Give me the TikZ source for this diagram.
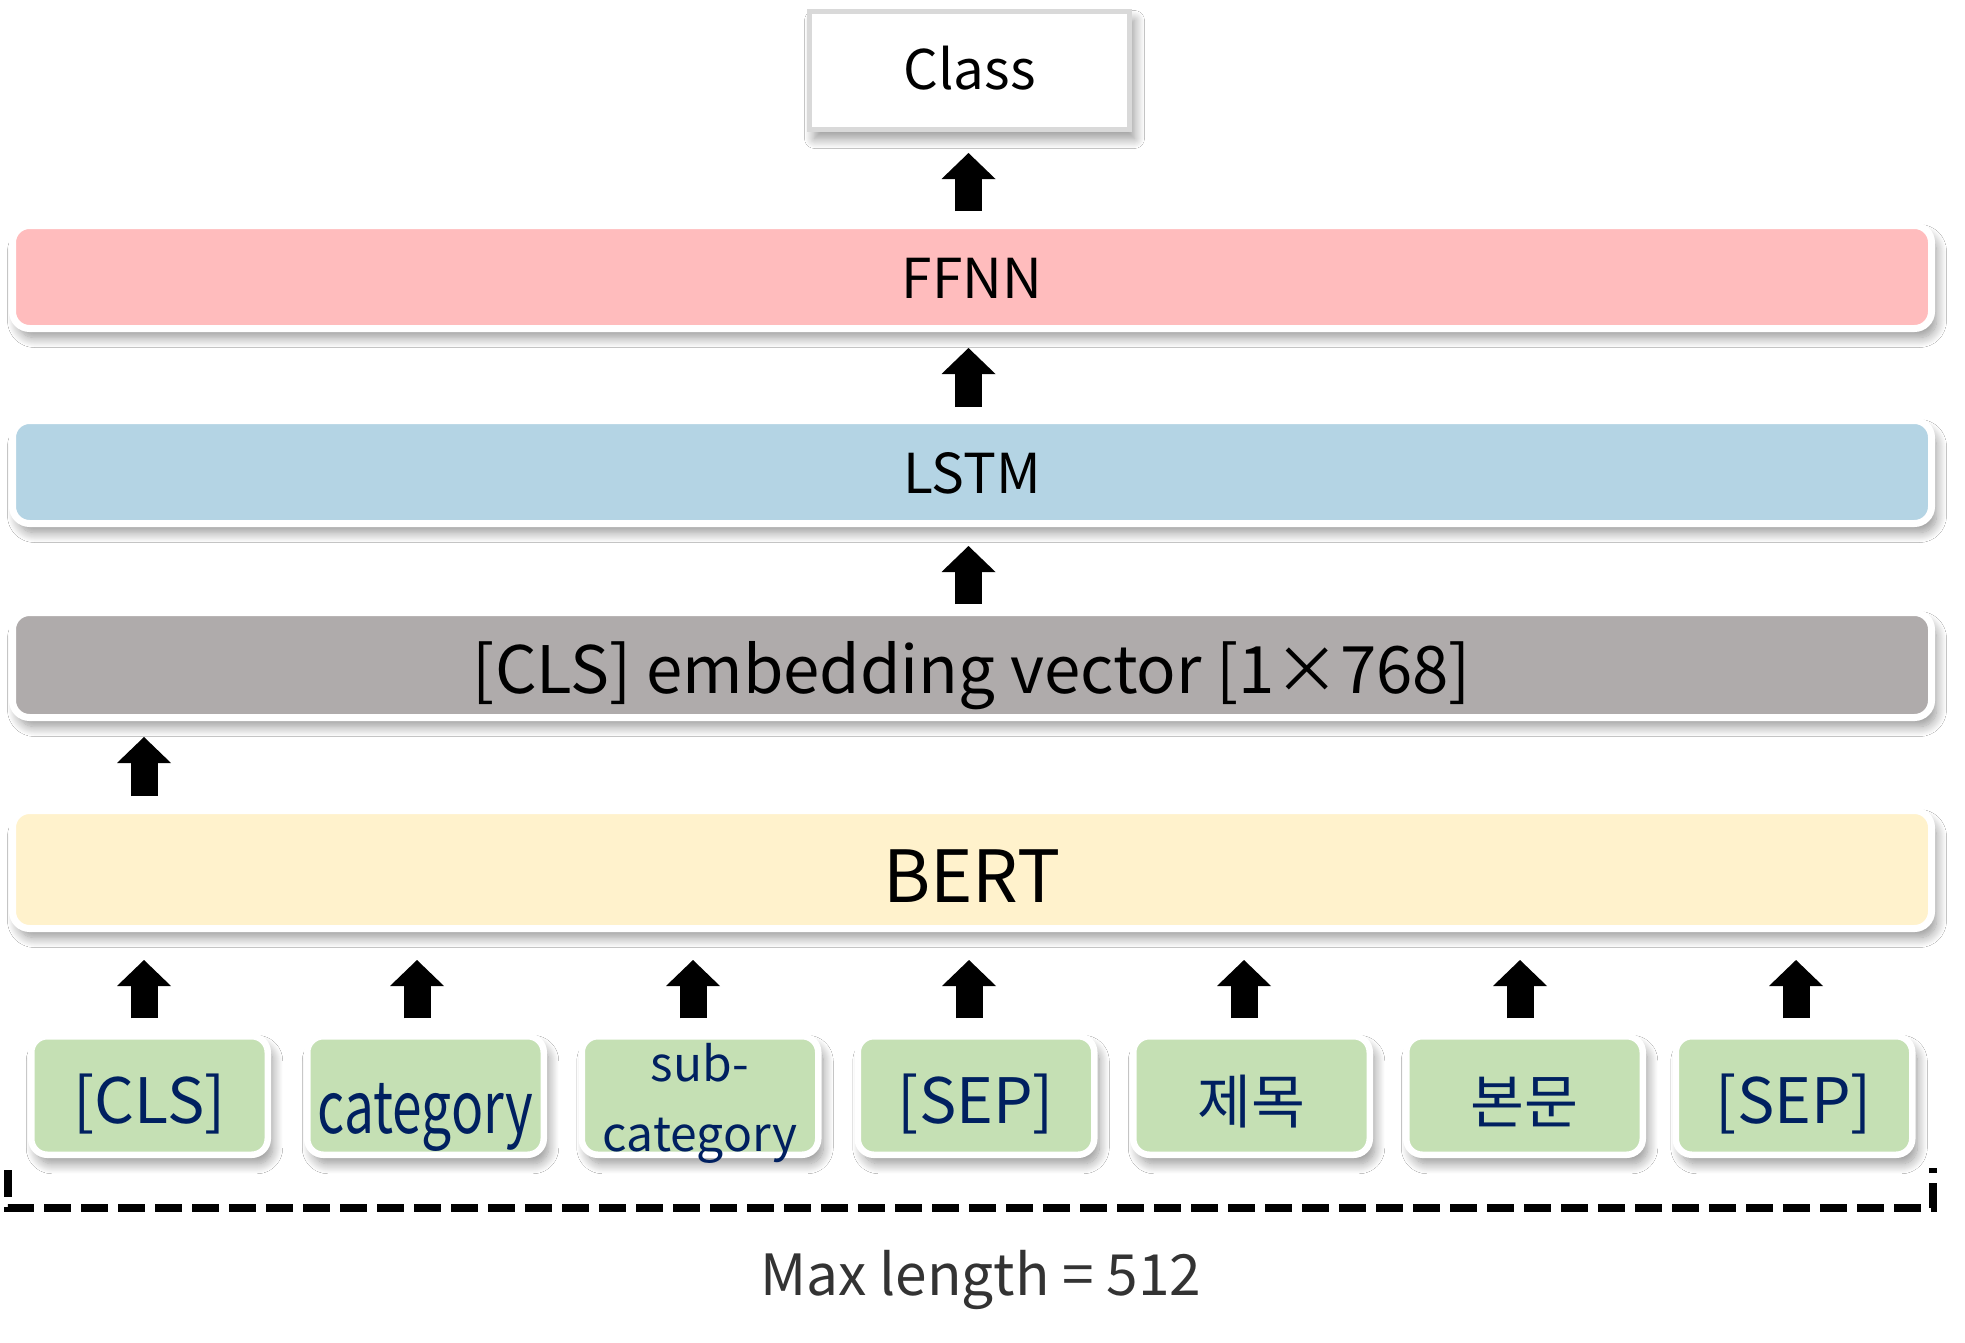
\documentclass[tikz,border=0pt]{standalone}
\usepackage{fontspec}
\usepackage{graphicx}
\setmainfont{Noto Sans CJK KR}
\usetikzlibrary{arrows.meta,shadows.blur}
\definecolor{ffnncol}{HTML}{FFBCBD}
\definecolor{lstmcol}{HTML}{B4D4E4}
\definecolor{embcol}{HTML}{AFABAB}
\definecolor{bertcol}{HTML}{FFF2CC}
\definecolor{tokcol}{HTML}{C5E0B4}
\definecolor{toktext}{HTML}{002060}
\definecolor{classborder}{HTML}{D9D9D9}
\definecolor{maxtext}{HTML}{333333}
\begin{document}
\begin{tikzpicture}[x=0.5pt,y=-0.5pt,
  softshadow/.style={blur shadow={shadow xshift=2.5pt, shadow yshift=-4.5pt, shadow blur radius=5pt, shadow blur steps=14, shadow opacity=42}},
  bar/.style={softshadow, draw=white, line width=3.5pt, rounded corners=8.5pt, minimum width=959.5pt, inner sep=0pt, outer sep=0pt, text depth=0pt},
  token/.style={softshadow, draw=white, line width=3.25pt, rounded corners=8pt, fill=tokcol, minimum width=118.25pt, minimum height=59.25pt, inner sep=0pt, outer sep=0pt, text=toktext, font=\fontsize{31.3pt}{37pt}\selectfont, text height=27.5pt, text depth=0pt},
  hangul/.style={font=\fontsize{29.3pt}{35pt}\selectfont},
  uparrow/.style={line width=13.5pt, -{Triangle[width=27pt, length=13pt, line width=0pt]}},
]
\useasboundingbox (0,0) rectangle (1965,1343);
\fill[white] (0,0) rectangle (1965,1343);

% top class box
\node[softshadow, draw=classborder, line width=2.5pt, fill=white, minimum width=160pt, minimum height=59pt, inner sep=0pt, outer sep=0pt, font=\fontsize{27.3pt}{33pt}\selectfont, text height=19.5pt, text depth=0pt] (class) at (969.5,70.5) {Class};

% layers
\node[bar, fill=ffnncol, minimum height=51.5pt, font=\fontsize{27.5pt}{33pt}\selectfont, text height=21pt] (ffnn) at (972,277) {FFNN};
\node[bar, fill=lstmcol, minimum height=51.5pt, font=\fontsize{27.5pt}{33pt}\selectfont, text height=21pt] (lstm) at (972,472) {LSTM};
\node[bar, fill=embcol, minimum height=52.5pt, font=\fontsize{32.7pt}{39pt}\selectfont, text height=28pt] (emb) at (972,665) {[CLS] embedding vector [1×768]};
\node[bar, fill=bertcol, minimum height=59pt, font=\fontsize{36pt}{43pt}\selectfont, text height=32.5pt] (bert) at (972,869.5) {BERT};

% tokens
\node[token] (t1) at (149.5,1095.5) {[CLS]};
\node[token, text height=38pt] (t2) at (425.5,1095.5) {\scalebox{0.74}[1]{\fontsize{36pt}{43pt}\selectfont category}};
\node[token, text height=0pt, font=\fontsize{24pt}{29pt}\selectfont] (t3) at (700,1095.5) {\smash{\raisebox{7.25pt}{\makebox[0pt]{sub-}}}\smash{\raisebox{-27.75pt}{\makebox[0pt]{category}}}};
\node[token] (t4) at (976,1095.5) {[SEP]};
\node[token, hangul] (t5) at (1251.5,1095.5) {제목};
\node[token, hangul] (t6) at (1524.5,1095.5) {본문};
\node[token] (t7) at (1794,1095.5) {[SEP]};

% arrows between layers
\draw[uparrow, shorten <=7.25pt, shorten >=11.75pt] ([xshift=-0.5pt]class.south |- ffnn.north) -- ([xshift=-0.5pt]class.south);
\draw[uparrow, shorten <=6.75pt, shorten >=9.75pt] ([xshift=-0.5pt]class.south |- lstm.north) -- ([xshift=-0.5pt]class.south |- ffnn.south);
\draw[uparrow, shorten <=4.25pt, shorten >=11.25pt] ([xshift=-0.5pt]class.south |- emb.north) -- ([xshift=-0.5pt]class.south |- lstm.south);
\draw[uparrow, shorten <=7.25pt, shorten >=9.75pt] ([xshift=-2.75pt]t1.north |- bert.north) -- ([xshift=-2.75pt]t1.north |- emb.south);

% token arrows
\draw[uparrow, shorten <=8.9pt, shorten >=15.75pt] ([xshift=-2.75pt]t1.north) -- ([xshift=-2.75pt]t1.north |- bert.south);
\draw[uparrow, shorten <=8.9pt, shorten >=15.75pt] ([xshift=-4.25pt]t2.north) -- ([xshift=-4.25pt]t2.north |- bert.south);
\draw[uparrow, shorten <=8.9pt, shorten >=15.75pt] ([xshift=-3.5pt]t3.north) -- ([xshift=-3.5pt]t3.north |- bert.south);
\draw[uparrow, shorten <=8.9pt, shorten >=15.75pt] ([xshift=-3.5pt]t4.north) -- ([xshift=-3.5pt]t4.north |- bert.south);
\draw[uparrow, shorten <=8.9pt, shorten >=15.75pt] ([xshift=-3.75pt]t5.north) -- ([xshift=-3.75pt]t5.north |- bert.south);
\draw[uparrow, shorten <=8.9pt, shorten >=15.75pt] ([xshift=-2.25pt]t6.north) -- ([xshift=-2.25pt]t6.north |- bert.south);
\draw[uparrow, shorten <=8.9pt, shorten >=15.75pt] ([xshift=1pt]t7.north) -- ([xshift=1pt]t7.north |- bert.south);

% dashed bracket
\coordinate (bl) at (8,1170);
\coordinate (br) at (1933,1168);
\draw[line width=4pt, dash pattern=on 13.5pt off 5pt] (bl) -- (8,1208) -- (1933,1208) -- (br);

\node[font=\fontsize{28.4pt}{34pt}\selectfont, text=maxtext, text height=20pt, text depth=0pt, inner sep=0pt] (maxlen) at (981,1275) {Max length = 512};
\end{tikzpicture}
\end{document}
